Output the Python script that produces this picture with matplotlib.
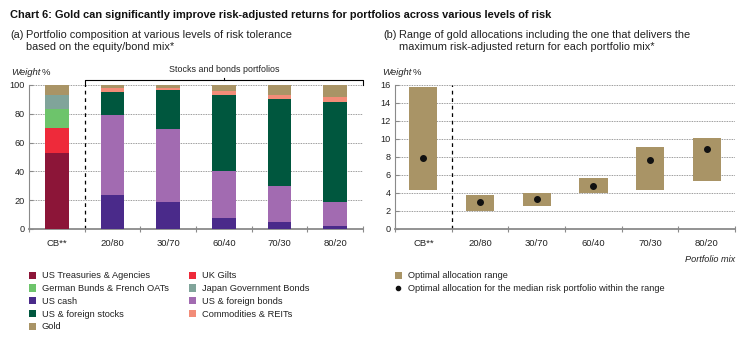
import matplotlib
matplotlib.use("Agg")
import matplotlib.pyplot as plt
from matplotlib.patches import Patch
from matplotlib.lines import Line2D
import numpy as np

plt.rcParams['font.family'] = ['Liberation Sans', 'DejaVu Sans']

categories = ["CB**", "20/80", "30/70", "60/40", "70/30", "80/20"]

# Panel (a): portfolio composition (% weight)
us_treasuries = [52.5, 0, 0, 0, 0, 0]
uk_gilts      = [17.5, 0, 0, 0, 0, 0]
german_bunds  = [13.5, 0, 0, 0, 0, 0]
japan_bonds   = [9.3, 0, 0, 0, 0, 0]
us_cash       = [0, 23.3, 18.7, 7.9, 4.6, 2.3]
us_bonds      = [0, 55.9, 50.8, 32.3, 25.0, 16.4]
us_stocks     = [0, 15.7, 26.8, 52.6, 60.4, 69.5]
commodities   = [0, 2.8, 1.3, 2.8, 2.8, 3.3]
gold          = [7.2, 2.3, 2.5, 4.4, 7.2, 8.5]

# Panel (b): gold allocation ranges (% weight)
range_low  = [4.35, 1.95, 2.6, 3.95, 4.35, 5.35]
range_high = [15.8, 3.8, 4.0, 5.7, 9.1, 10.1]
median_alloc = [7.9, 3.0, 3.35, 4.8, 7.7, 8.9]

series = [
    ("US Treasuries & Agencies", us_treasuries, "#8C1538"),
    ("UK Gilts", uk_gilts, "#EE2A3A"),
    ("German Bunds & French OATs", german_bunds, "#6DC46B"),
    ("Japan Government Bonds", japan_bonds, "#80A49A"),
    ("US cash", us_cash, "#4A2A8A"),
    ("US & foreign bonds", us_bonds, "#A26BB1"),
    ("US & foreign stocks", us_stocks, "#00573E"),
    ("Commodities & REITs", commodities, "#F28C78"),
    ("Gold", gold, "#A99466"),
]
gold_col = "#A99466"
spine_col = "#8a8a8a"
grid_col = "#7a7a7a"
txt_col = "#222222"

W, H = 741, 337
fig = plt.figure(figsize=(W/100, H/100), dpi=100)

def fx(px): return px / W
def fy(py): return 1 - py / H

axA = fig.add_axes([fx(29), fy(229), fx(363) - fx(29), fy(85) - fy(229)])
axB = fig.add_axes([fx(395), fy(229), fx(735) - fx(395), fy(85) - fy(229)])

x = np.arange(len(categories))

def style(ax, ymax, step):
    ax.set_xlim(-0.5, len(categories) - 0.5)
    ax.set_ylim(0, ymax)
    ax.set_yticks(np.arange(0, ymax + 0.01, step))
    ax.set_xticks(x)
    ax.set_xticklabels(categories)
    ax.set_xticks(np.arange(-0.5, len(categories)), minor=True)
    for s in ["top", "right"]:
        ax.spines[s].set_visible(False)
    ax.spines["left"].set_color(spine_col)
    ax.spines["left"].set_linewidth(0.8)
    ax.spines["bottom"].set_color(spine_col)
    ax.spines["bottom"].set_linewidth(1.3)
    ax.tick_params(axis="x", which="major", length=0, labelsize=6.8, pad=7, colors=txt_col)
    ax.tick_params(axis="x", which="minor", length=4, direction="inout", color=spine_col, width=0.8)
    ax.tick_params(axis="y", direction="in", length=3, color=spine_col, width=0.8,
                   labelsize=6.6, pad=3, labelcolor=txt_col)
    ax.yaxis.grid(True, linestyle=(0, (1, 1)), color=grid_col, linewidth=0.6)
    ax.set_axisbelow(True)
    ax.axvline(0.5, color="black", linestyle=(0, (3, 3)), linewidth=0.9, zorder=1)

# Panel (a)
style(axA, 100, 20)
bottom = np.zeros(len(categories))
for name, vals, col in series:
    vals = np.array(vals, dtype=float)
    axA.bar(x, vals, width=0.42, bottom=bottom, color=col, zorder=3, linewidth=0)
    bottom += vals

# bracket above stocks & bonds portfolios
yb = 103.6
axA.plot([0.5, 0.5, 5.5, 5.5], [100, yb, yb, 100], color="black", lw=0.8, clip_on=False, zorder=4)
axA.plot([3.0, 3.0], [yb, yb + 1.6], color="black", lw=0.8, clip_on=False)
axA.text(3.0, 107.8, "Stocks and bonds portfolios", ha="center", va="bottom", fontsize=6.4,
         color=txt_col, clip_on=False)

# Panel (b)
style(axB, 16, 2)
axB.bar(x, np.array(range_high) - np.array(range_low), bottom=range_low, width=0.5,
        color=gold_col, zorder=3, linewidth=0)
axB.scatter(x, median_alloc, s=16, color="#111111", zorder=4)

# Texts
fig.text(fx(10), fy(18), "Chart 6: Gold can significantly improve risk-adjusted returns for portfolios across various levels of risk",
         fontsize=7.9, fontweight="bold", va="baseline", color="#111111")
sub = 7.9
fig.text(fx(10), fy(38), "(a)", fontsize=sub, va="baseline", color=txt_col)
fig.text(fx(26), fy(38), "Portfolio composition at various levels of risk tolerance", fontsize=sub, va="baseline", color=txt_col)
fig.text(fx(26), fy(50), "based on the equity/bond mix*", fontsize=sub, va="baseline", color=txt_col)
fig.text(fx(383), fy(38), "(b)", fontsize=sub, va="baseline", color=txt_col)
fig.text(fx(399), fy(38), "Range of gold allocations including the one that delivers the", fontsize=sub, va="baseline", color=txt_col)
fig.text(fx(399), fy(50), "maximum risk-adjusted return for each portfolio mix*", fontsize=sub, va="baseline", color=txt_col)

for xp in (11, 382):
    fig.text(fx(xp), fy(75), "Weight", fontsize=6.8, style="italic", va="baseline", color=txt_col)
    fig.text(fx(xp + 31), fy(75), "%", fontsize=6.8, va="baseline", color=txt_col)

fig.text(fx(735), fy(262), "Portfolio mix", fontsize=6.6, style="italic", ha="right", va="baseline", color=txt_col)

# Legends
leg_fs = 6.7
leg_kw = dict(loc="upper left", frameon=False, fontsize=leg_fs, handlelength=0.75,
              handleheight=0.8, handletextpad=0.6, labelspacing=0.4, borderaxespad=0, borderpad=0)
handlesA = [Patch(facecolor=col, edgecolor="none", label=name) for name, _, col in series]
col1 = [handlesA[i] for i in (0, 2, 4, 6, 8)]
col2 = [handlesA[i] for i in (1, 3, 5, 7)]
legs = []
legs.append(fig.legend(handles=col1, bbox_to_anchor=(fx(29), fy(271.5)), **leg_kw))
legs.append(fig.legend(handles=col2, bbox_to_anchor=(fx(189), fy(271.5)), **leg_kw))

handlesB = [Patch(facecolor=gold_col, edgecolor="none", label="Optimal allocation range"),
            Line2D([], [], marker="o", linestyle="none", color="#111111", markersize=3,
                   label="Optimal allocation for the median risk portfolio within the range")]
legs.append(fig.legend(handles=handlesB, bbox_to_anchor=(fx(395), fy(271.5)), **leg_kw))
for lg in legs:
    for t in lg.get_texts():
        t.set_color(txt_col)

fig.savefig("out.png", dpi=100)
